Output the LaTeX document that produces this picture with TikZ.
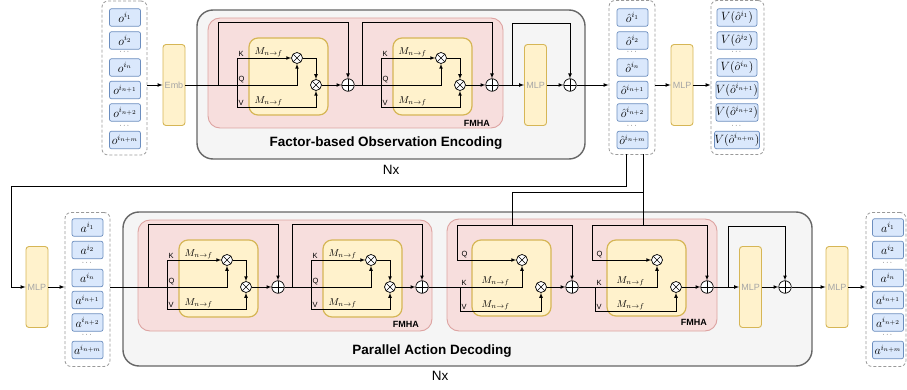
\documentclass[tikz,border=0pt]{standalone}
\usepackage{amsmath}
\usepackage{fontspec}
\setsansfont{Liberation Sans}

\definecolor{itemfill}{HTML}{DAE8FC}
\definecolor{itemedge}{HTML}{6C8EBF}
\definecolor{yellfill}{HTML}{FFF2CC}
\definecolor{yelledge}{HTML}{D6B656}
\definecolor{pinkfill}{HTML}{F7DEDD}
\definecolor{pinkedge}{HTML}{DDA3A1}
\definecolor{grayfill}{HTML}{F5F5F5}
\definecolor{grayedge}{HTML}{666666}
\definecolor{colgray}{HTML}{999999}
\definecolor{mlptext}{HTML}{A6A6A6}

\tikzset{
  wire/.style={line width=0.7pt},
  flow/.style={wire, -latex},
  item/.style={draw=itemedge, fill=itemfill, line width=0.7pt, rounded corners=2pt,
    minimum width=31pt, minimum height=17.5pt, inner sep=0pt, font=\fontsize{12}{13}\selectfont},
  colbox/.style={draw=colgray, line width=0.8pt, dash pattern=on 3pt off 2pt,
    rounded corners=6pt, fill=white, minimum height=154pt, inner sep=0pt},
  dots/.style={font=\scriptsize, inner sep=0pt},
  ybox/.style={draw=yelledge, fill=yellfill, line width=0.9pt, rounded corners=3pt,
    minimum width=22pt, minimum height=81pt, inner sep=0pt, text=mlptext,
    font=\sffamily\fontsize{9}{10}\selectfont},
  op/.style={circle, draw, line width=0.7pt, fill=white, inner sep=0pt},
  otimes/.style={op, minimum size=11pt, path picture={
    \draw[line width=0.6pt] (path picture bounding box.north west) -- (path picture bounding box.south east)
      (path picture bounding box.north east) -- (path picture bounding box.south west);}},
  oplus/.style={op, minimum size=12.5pt, path picture={
    \draw[line width=0.6pt] (path picture bounding box.north) -- (path picture bounding box.south)
      (path picture bounding box.east) -- (path picture bounding box.west);}},
  kqv/.style={font=\sffamily\fontsize{7.5}{8}\selectfont, anchor=south west, inner sep=1.5pt},
  mlab/.style={font=\fontsize{10}{11}\selectfont, anchor=south west, inner sep=0.5pt},
  fmha/.style={font=\sffamily\bfseries\fontsize{9}{10}\selectfont, anchor=south east, inner sep=0pt},
  title/.style={font=\sffamily\bfseries\fontsize{13.5}{15}\selectfont, anchor=base, inner sep=0pt},
  rep/.style={font=\sffamily\fontsize{13.5}{15}\selectfont, anchor=base, inner sep=0pt},
  graybox/.style={draw=grayedge, fill=grayfill, line width=1.4pt, rounded corners=16pt},
  pinkbox/.style={draw=pinkedge, fill=pinkfill, line width=0.9pt, rounded corners=12pt},
  attbox/.style={draw=yelledge, fill=yellfill, line width=1.2pt, rounded corners=9pt},
}

\begin{document}
\begin{tikzpicture}[x=1pt, y=-1pt]
\useasboundingbox (0,0) rectangle (907,390);

% frames
\draw[graybox] (197,10) rectangle (585,159);
\draw[graybox] (123,212) rectangle (812,366);
\draw[pinkbox] (208,18) rectangle (503,128);
\draw[pinkbox] (138,220) rectangle (432,331);
\draw[pinkbox] (447,219) rectangle (717,331);
\node[fmha] (fmha1) at (490,127) {FMHA};
\node[fmha] (fmha2) at (419,328) {FMHA};
\node[fmha] (fmha3) at (707,326) {FMHA};
\node[title] (enctitle) at (386,146.5) {Factor-based Observation Encoding};
\node[title] (dectitle) at (432,354) {Parallel Action Decoding};
\node[rep] (nx1) at (391,175) {Nx};
\node[rep] (nx2) at (440,380) {Nx};

% token columns
\node[colbox, minimum width=45pt] (ocol) at (124.5,78) {};
\foreach \y/\s [count=\i] in {17.5/1, 40.5/2, 67.5/n, 90/{n+1}, 112.5/{n+2}, 140/{n+m}}
  \node[item] (o\i) at (125,\y) {$o^{i_{\s}}$};
\node[colbox, minimum width=46pt] (hcol) at (632,77.5) {};
\foreach \y/\s [count=\i] in {17.5/1, 40.5/2, 67.5/n, 90/{n+1}, 112.5/{n+2}, 140/{n+m}}
  \node[item] (h\i) at (632.5,\y) {$\hat{o}^{i_{\s}}$};
\node[colbox, minimum width=53pt] (vcol) at (737.5,77.5) {};
\foreach \y/\s [count=\i] in {17.5/1, 40.5/2, 67.5/n, 90/{n+1}, 112.5/{n+2}, 140/{n+m}}
  \node[item, minimum width=40pt] (v\i) at (737,\y) {$V(\hat{o}^{i_{\s}})$};
\node[colbox, minimum width=45pt] (acol1) at (87.5,289.5) {};
\foreach \y/\s [count=\i] in {227.5/1, 250/2, 278/n, 300/{n+1}, 322.5/{n+2}, 350/{n+m}}
  \node[item] (a\i) at (87.5,\y) {$a^{i_{\s}}$};
\node[colbox, minimum width=40pt] (acol2) at (886,289.5) {};
\foreach \y/\s [count=\i] in {227.5/1, 250/2, 278/n, 300/{n+1}, 322.5/{n+2}, 350/{n+m}}
  \node[item] (b\i) at (888,\y) {$a^{i_{\s}}$};
\foreach \x [count=\i] in {125, 632.5, 737} {
  \node[dots] (edotA\i) at (\x,52) {$\cdots$};
  \node[dots] (edotB\i) at (\x,125.5) {$\cdots$};
}
\foreach \x [count=\i] in {87.5, 888} {
  \node[dots] (ddotA\i) at (\x,263) {$\cdots$};
  \node[dots] (ddotB\i) at (\x,335) {$\cdots$};
}

% embedding and MLPs
\node[ybox] (emb) at (174,85) {Emb};
\node[ybox] (mlpE) at (535.5,85) {MLP};
\node[ybox] (mlpV) at (682,85) {MLP};
\node[ybox] (mlpD) at (37,287) {MLP};
\node[ybox] (mlpP) at (750.5,287) {MLP};
\node[ybox] (mlpO) at (837,287) {MLP};
\node[oplus] (encs) at (570,85) {};
\node[oplus] (decs) at (785,287) {};

% self attention blocks
\coordinate (Cin) at (110,287);
\foreach \n/\r/\Y/\src in {A/218/85/emb.east, B/362/85/A-s.east, C/148/287/Cin, D/292/287/C-s.east} {
  \draw[attbox] (\r+31,\Y-47) rectangle (\r+110,\Y+30);
  \coordinate (\n-k) at (\r+19,\Y-27);
  \coordinate (\n-v) at (\r+19,\Y+22);
  \node[otimes] (\n-m1) at (\r+79,\Y-27) {};
  \node[otimes] (\n-m2) at (\r+98,\Y) {};
  \node[oplus] (\n-s) at (\r+130,\Y) {};
  \draw[flow] (\src) -| (\n-m1.south);
  \draw[flow] (\r,\Y) -- ++(0,-63) -| (\n-s.north);
  \draw[wire] (\n-k) -- (\n-v);
  \draw[flow] (\n-k) -- (\n-m1);
  \draw[flow] (\n-v) -| (\n-m2.south);
  \draw[flow] (\n-m1.east) -| (\n-m2.north);
  \draw[flow] (\n-m2) -- (\n-s);
  \node[kqv] (\n-K) at (\n-k) {K};
  \node[kqv] (\n-Q) at (\r+19,\Y) {Q};
  \node[kqv] (\n-V) at (\n-v) {V};
  \node[mlab] (\n-M1) at (\r+36,\Y-27) {$M_{n\to f}$};
  \node[mlab] (\n-M2) at (\r+36,\Y+22) {$M_{n\to f}$};
}

% cross attention blocks
\foreach \n/\q/\t/\src in {E/457/512/D-s.east, F/592/643/E-s.east} {
  \draw[attbox] (\q+15,240) rectangle (\q+94,316);
  \coordinate (\n-t) at (\t,225);
  \coordinate (\n-k) at (\q+3,287);
  \coordinate (\n-v) at (\q+3,311);
  \node[otimes] (\n-m1) at (\q+65,260) {};
  \node[otimes] (\n-m2) at (\q+84,287) {};
  \node[oplus] (\n-s) at (\q+115,287) {};
  \draw[flow] (\n-t) -- (\q,225) |- (\n-m1.west);
  \draw[flow] (\n-t) -| (\n-s.north);
  \draw[flow] (\src) -| (\n-m1.south);
  \draw[wire] (\n-k) -- (\n-v);
  \draw[flow] (\n-v) -| (\n-m2.south);
  \draw[flow] (\n-m2) -- (\n-s);
  \node[kqv] (\n-Q) at (\q+3,260) {Q};
  \node[kqv] (\n-K) at (\n-k) {K};
  \node[kqv] (\n-V) at (\n-v) {V};
  \node[mlab] (\n-M1) at (\q+24,287) {$M_{n\to f}$};
  \node[mlab] (\n-M2) at (\q+24,311) {$M_{n\to f}$};
}

% encoder wiring
\coordinate (encr) at (512,85);
\draw[flow] (ocol.east |- emb) -- (emb);
\draw[flow] (B-s) -- (mlpE);
\draw[flow] (encr) -- ++(0,-62) -| (encs.north);
\draw[flow] (mlpE) -- (encs);
\draw[flow] (encs) -- (encs -| hcol.west);
\draw[flow] (hcol.east |- mlpV) -- (mlpV);
\draw[flow] (mlpV) -- (mlpV -| vcol.west);

% encoder to decoder
\coordinate (h1) at (626,154.5);
\coordinate (h2) at (643,154.5);
\coordinate (split) at (643,192);
\draw[flow] (h1) -- ++(0,31.5) -- ++(-615,0) |- (mlpD);
\draw[wire] (h2) -- (F-t);
\draw[wire] (split) -| (E-t);

% decoder wiring
\coordinate (decr) at (728,287);
\draw[flow] (mlpD) -- (mlpD -| acol1.west);
\draw[flow] (F-s) -- (mlpP);
\draw[flow] (decr) -- ++(0,-61) -| (decs.north);
\draw[flow] (mlpP) -- (decs);
\draw[flow] (decs) -- (mlpO);
\draw[flow] (mlpO) -- (mlpO -| acol2.west);
\end{tikzpicture}
\end{document}
